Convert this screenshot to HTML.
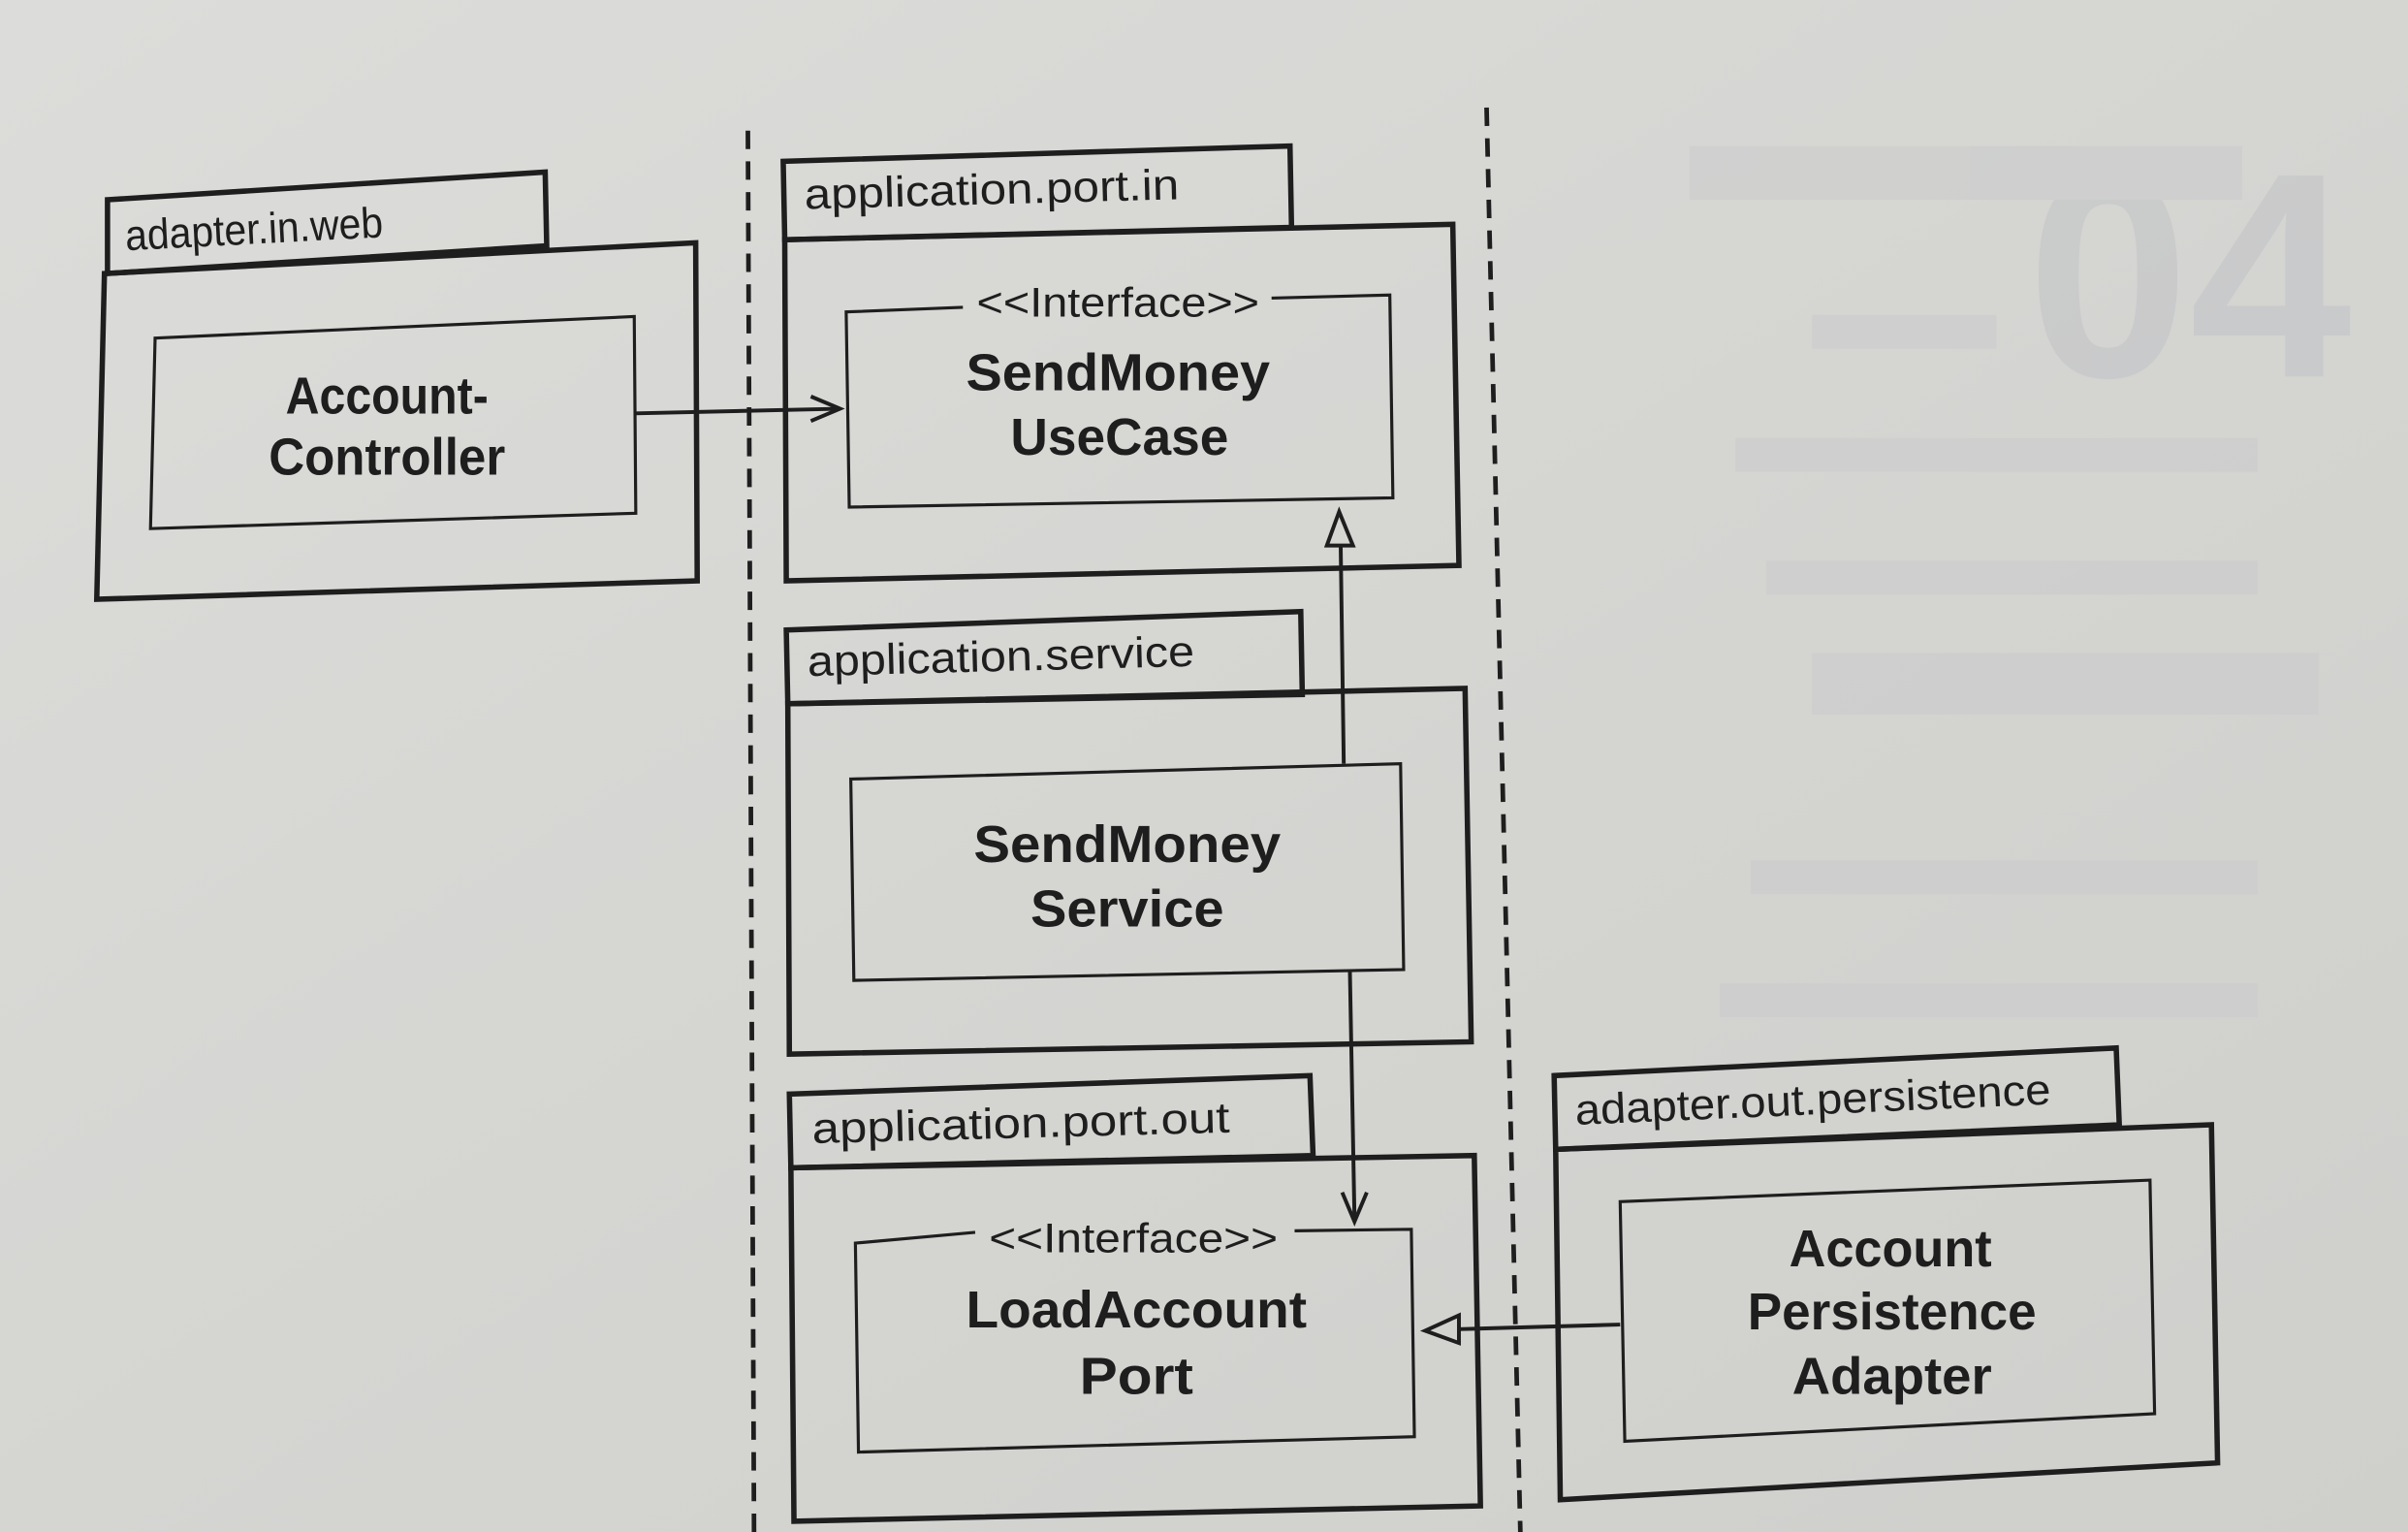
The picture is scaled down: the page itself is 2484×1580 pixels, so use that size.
<!DOCTYPE html>
<html><head><meta charset="utf-8"><style>
html,body{margin:0;padding:0;width:2484px;height:1580px;overflow:hidden;background:#d6d6d3}
svg{display:block}
text{font-family:"Liberation Sans","DejaVu Sans",sans-serif;fill:#1e1e1e}
.b{font-weight:bold;font-size:34px;text-anchor:middle}
.t{font-size:28px}
.i{font-size:27px}
</style></head><body>
<svg width="2484" height="1580" viewBox="0 0 1568 997" preserveAspectRatio="none">
<defs>
<linearGradient id="bg" x1="0" y1="0" x2="1" y2="1">
<stop offset="0" stop-color="#dcdcda"/><stop offset="0.5" stop-color="#d5d5d2"/><stop offset="1" stop-color="#cfcfcc"/>
</linearGradient>
</defs>
<rect width="1568" height="997" fill="url(#bg)"/>
<g fill="#cbcccd" opacity="0.6">
<text x="1320" y="245" style="font-size:190px;font-weight:bold;fill:#c3c5c8">04</text>
<rect x="1100" y="95" width="360" height="35"/>
<rect x="1130" y="285" width="340" height="22"/>
<rect x="1150" y="365" width="320" height="22"/>
<rect x="1180" y="425" width="330" height="40"/>
<rect x="1140" y="560" width="330" height="22"/>
<rect x="1120" y="640" width="350" height="22"/>
<rect x="1180" y="205" width="120" height="22"/>
</g>
<g fill="none" stroke="#1e1e1e">
<line x1="487" y1="85" x2="491" y2="997" stroke-width="3" stroke-dasharray="12,8"/>
<line x1="968" y1="70" x2="990" y2="997" stroke-width="3" stroke-dasharray="12,8"/>
<polygon points="70,130 355,112 356,160 70,178" stroke-width="3.5"/>
<polygon points="68,178 453,158 454,378 63,390" stroke-width="3.5"/>
<polygon points="101,220 413,206 414,334 98,344" stroke-width="2"/>
<polygon points="510,105 840,95 841,148 511,156" stroke-width="3.5"/>
<polygon points="511,156 946,146 950,368 512,378" stroke-width="3.5"/>
<polyline points="627,200 551,203 553,330 907,324 905,192 828,194" stroke-width="2"/>
<polygon points="512,410 847,398 848,452 513,458" stroke-width="3.5"/>
<polygon points="513,458 954,448 958,678 514,686" stroke-width="3.5"/>
<polygon points="554,507 912,497 914,631 556,638" stroke-width="2"/>
<polygon points="514,712 853,700 855,752 515,760" stroke-width="3.5"/>
<polygon points="515,760 960,752 964,980 517,990" stroke-width="3.5"/>
<polyline points="635,802 557,809 559,945 921,935 919,800 843,801" stroke-width="2"/>
<polygon points="1012,700 1378,682 1380,732 1013,748" stroke-width="3.5"/>
<polygon points="1013,748 1440,732 1444,952 1016,976" stroke-width="3.5"/>
<polygon points="1055,782 1400,768 1403,920 1058,938" stroke-width="2"/>
<line x1="414" y1="269" x2="546" y2="266" stroke-width="2.5"/>
<polyline points="528,258 547,266 528,274" stroke-width="2.5"/>
<line x1="875" y1="497" x2="873" y2="355" stroke-width="2.5"/>
<polygon points="864,355 872,333 881,355" stroke-width="2.5"/>
<line x1="879" y1="632" x2="882" y2="793" stroke-width="2.5"/>
<polyline points="874,776 882,795 890,776" stroke-width="2.5"/>
<line x1="1055" y1="862" x2="950" y2="865" stroke-width="2.5"/>
<polygon points="950,856 928,866 950,874" stroke-width="2.5"/>
</g>
<text class="t" x="82" y="163" transform="rotate(-3 82 163)" textLength="168" lengthAdjust="spacingAndGlyphs">adapter.in.web</text>
<text class="t" x="524" y="136" transform="rotate(-1.5 524 136)" textLength="244" lengthAdjust="spacingAndGlyphs">application.port.in</text>
<text class="t" x="526" y="440" transform="rotate(-1.5 526 440)" textLength="252" lengthAdjust="spacingAndGlyphs">application.service</text>
<text class="t" x="529" y="744" transform="rotate(-1.5 529 744)" textLength="272" lengthAdjust="spacingAndGlyphs">application.port.out</text>
<text class="t" x="1026" y="732" transform="rotate(-2.5 1026 732)" textLength="310" lengthAdjust="spacingAndGlyphs">adapter.out.persistence</text>
<text class="b" x="252" y="269" textLength="132" lengthAdjust="spacingAndGlyphs">Account-</text>
<text class="b" x="252" y="309" textLength="154" lengthAdjust="spacingAndGlyphs">Controller</text>
<text class="i" x="636" y="206" textLength="184" lengthAdjust="spacingAndGlyphs">&lt;&lt;Interface&gt;&gt;</text>
<text class="b" x="728" y="254" textLength="198" lengthAdjust="spacingAndGlyphs">SendMoney</text>
<text class="b" x="729" y="296" textLength="142" lengthAdjust="spacingAndGlyphs">UseCase</text>
<text class="b" x="734" y="561" textLength="200" lengthAdjust="spacingAndGlyphs">SendMoney</text>
<text class="b" x="734" y="603" textLength="126" lengthAdjust="spacingAndGlyphs">Service</text>
<text class="i" x="644" y="815" textLength="188" lengthAdjust="spacingAndGlyphs">&lt;&lt;Interface&gt;&gt;</text>
<text class="b" x="740" y="864" textLength="222" lengthAdjust="spacingAndGlyphs">LoadAccount</text>
<text class="b" x="740" y="907" textLength="74" lengthAdjust="spacingAndGlyphs">Port</text>
<text class="b" x="1231" y="824" textLength="132" lengthAdjust="spacingAndGlyphs">Account</text>
<text class="b" x="1232" y="865" textLength="188" lengthAdjust="spacingAndGlyphs">Persistence</text>
<text class="b" x="1232" y="907" textLength="130" lengthAdjust="spacingAndGlyphs">Adapter</text>
</svg>
</body></html>
